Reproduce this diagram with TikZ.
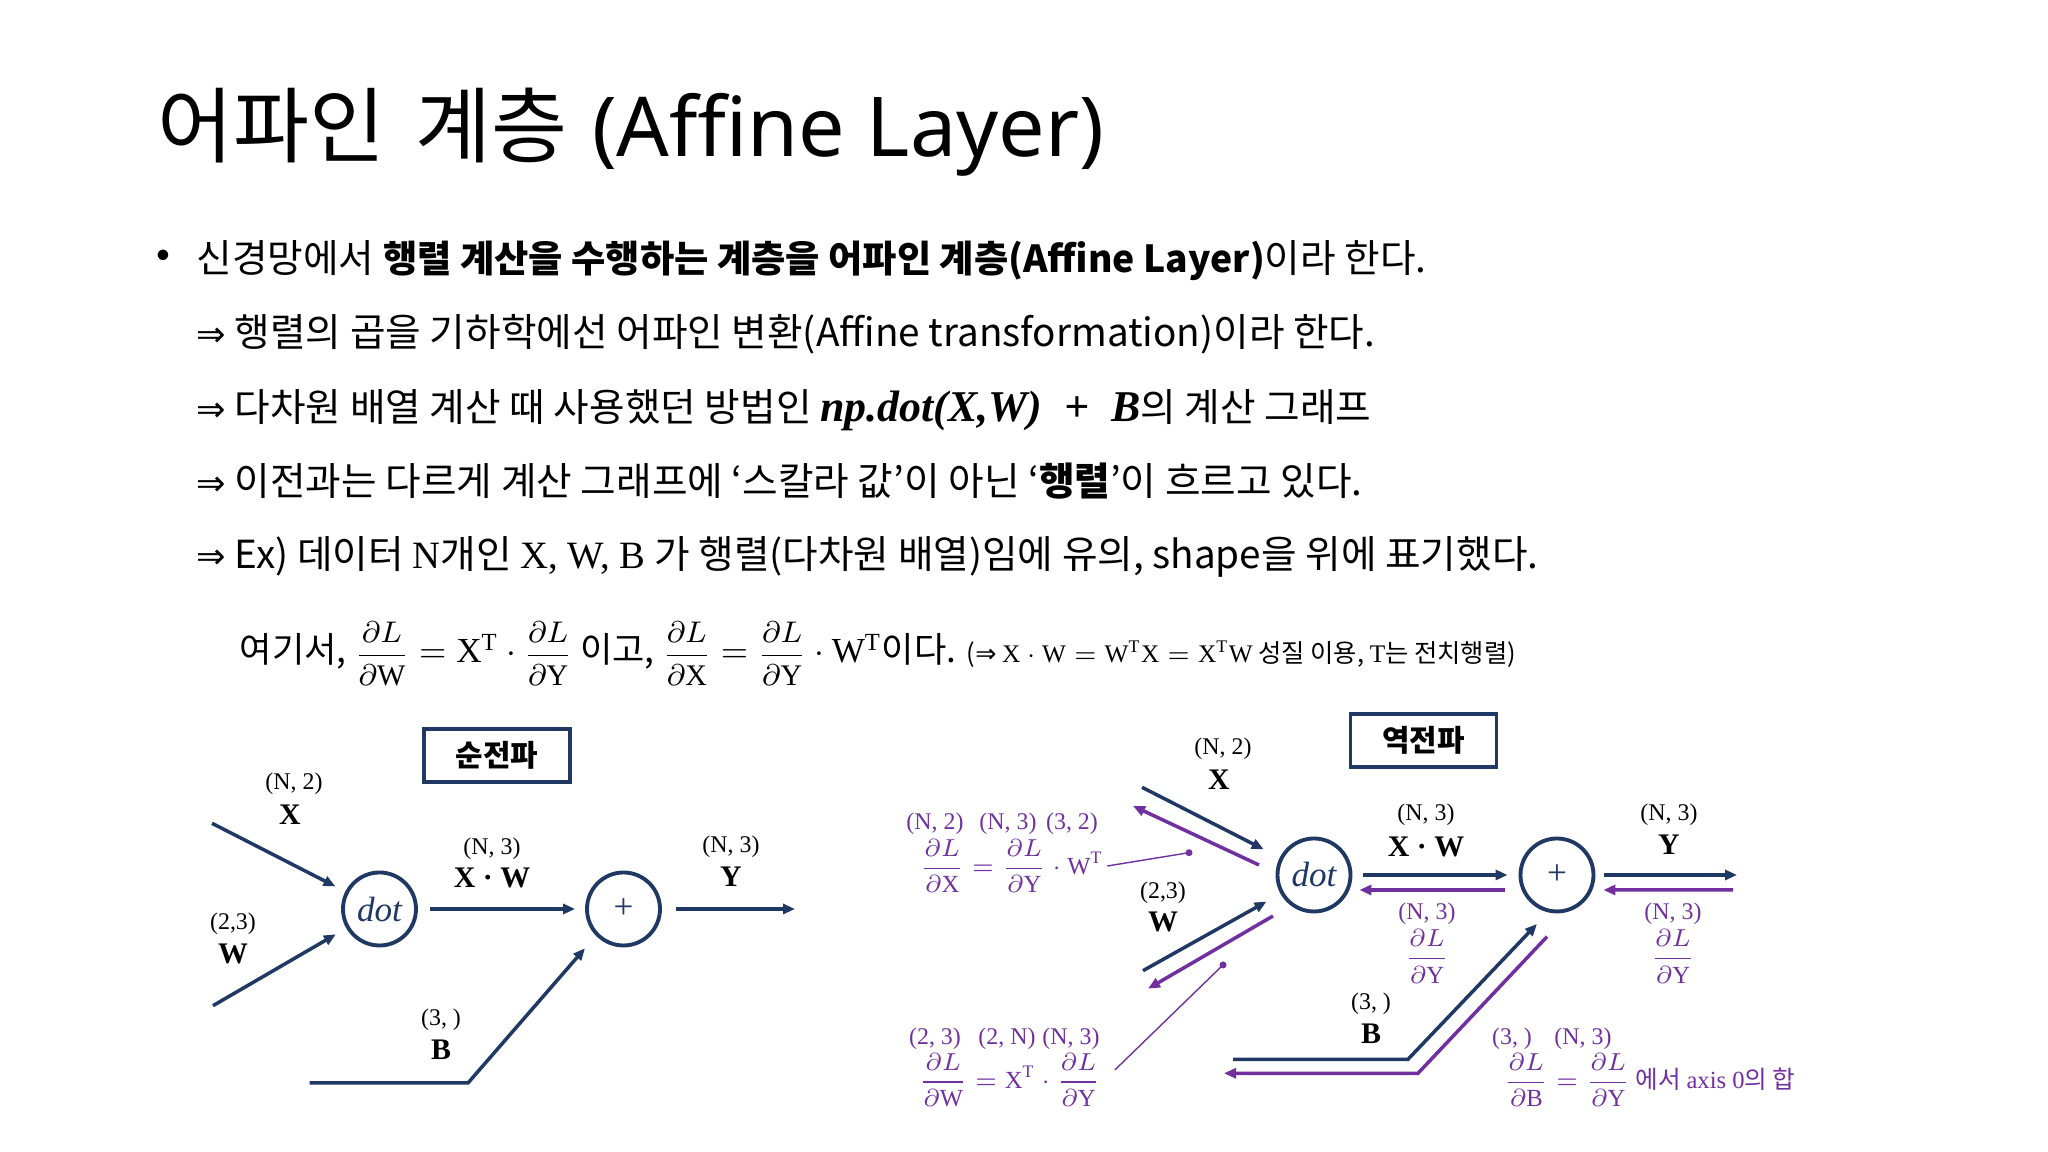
\RequirePackage{fix-cm}
\documentclass[tikz,border=0pt]{standalone}
\usepackage{amsmath}
\usepackage{fontspec}
\setmainfont{Noto Sans CJK KR}
\setmathrm{Liberation Serif}
\newfontfamily\serifface{Liberation Serif}
\newfontfamily\latinface{Noto Sans}
\newfontfamily\symface{DejaVu Sans}
\usetikzlibrary{arrows.meta,calc}

\definecolor{navy}{RGB}{31,56,100}
\definecolor{gradpurple}{RGB}{112,48,160}

\newcommand{\dLd}[1]{\dfrac{\partial L}{\partial \mathrm{#1}}}
\newcommand{\sdLd}[1]{{\fontsize{8.5}{10}\selectfont$\dLd{#1}$}}
\newcommand{\imp}{{\symface\fontsize{10}{12}\selectfont ⇒}}

\tikzset{
    body/.style={anchor=base west, inner sep=0pt, font=\fontsize{11}{13}\selectfont},
    fwd/.style={navy, line width=1pt, -{Triangle[length=1.2mm,width=1mm]}},
    bwd/.style={gradpurple, line width=1pt, -{Triangle[length=1.2mm,width=1mm]}},
    gate/.style={circle, draw=navy, line width=1.1pt, minimum size=0.73cm, inner sep=0pt,
        text=navy, font=\serifface\fontsize{10}{11}\selectfont},
    passbox/.style={draw=navy, line width=1pt, minimum width=1.46cm, minimum height=0.53cm,
        inner sep=0pt, font=\fontsize{8.5}{10}\selectfont\bfseries},
    shp/.style={inner sep=0pt, font=\serifface\fontsize{6.8}{8}\selectfont},
    var/.style={inner sep=0pt, font=\serifface\bfseries\fontsize{8.5}{10}\selectfont},
    pshp/.style={shp, text=gradpurple},
    pform/.style={inner sep=1pt, text=gradpurple, font=\fontsize{7}{8.5}\selectfont},
    lead/.style={gradpurple, line width=0.4pt},
}

\begin{document}
\begin{tikzpicture}
    \useasboundingbox (0,0) rectangle (20.48,11.52);

    % title and text lines
    \node[anchor=base west, inner sep=0pt, font=\fontsize{23.5}{28}\selectfont] (title) at (1.57,9.95) {어파인\hspace{0.36em}계층\hspace{0.3em}{\latinface(Affine Layer)}};
    \node[anchor=base, inner sep=0pt, font=\fontsize{7}{8}\selectfont] (bullet) at (1.63,8.90) {$\bullet$};
    \node[body] (line1) at (1.96,8.79) {신경망에서 {\fontsize{10.6}{13}\selectfont\bfseries 행렬 계산을 수행하는 계층을 어파인 계층(Affine Layer)}이라 한다.};
    \node[body] (line2) at (1.96,8.05) {\imp{} 행렬의 곱을 기하학에선 어파인 변환(Affine transformation)이라 한다.};
    \node[body] (line3) at (1.96,7.30) {\imp{} 다차원 배열 계산 때 사용했던 방법인 {\serifface\bfseries\itshape\fontsize{12.5}{14}\selectfont np.dot(X,W)\enspace+\enspace B}의 계산 그래프};
    \node[body] (line4) at (1.96,6.56) {\imp{} 이전과는 다르게 계산 그래프에 ‘스칼라 값’이 아닌 ‘\textbf{행렬}’이 흐르고 있다.};
    \node[body] (line5) at (1.96,5.83) {\imp{} Ex) 데이터 {\serifface N}개인 {\serifface X, W, B} 가 행렬(다차원 배열)임에 유의, shape을 위에 표기했다.};
    \node[body, font=\fontsize{10}{12}\selectfont] (line6) at (2.39,4.89) {여기서, \sdLd{W}$\;=\mathrm{X}^{\mathrm{T}}\cdot{}$\sdLd{Y} 이고, \sdLd{X}$\;=\;$\sdLd{Y}${}\cdot\mathrm{W}^{\mathrm{T}}$이다. {\fontsize{7.2}{9}\selectfont ({\symface ⇒} $\mathrm{X}\cdot\mathrm{W} = \mathrm{W}^{\mathrm{T}}\mathrm{X} = \mathrm{X}^{\mathrm{T}}\mathrm{W}$ 성질 이용, {\serifface T}는 전치행렬)}};

    % forward pass
    \node[passbox] (fwdbox) at (4.97,3.967) {순전파};
    \node[gate] (dot) at (3.795,2.43) {\itshape dot};
    \node[gate] (plus) at (6.235,2.43) {+};
    \coordinate (xin) at (2.12,3.287);
    \coordinate (win) at (2.13,1.463);
    \coordinate (yout) at (7.95,2.43);
    \coordinate (bin) at (3.095,0.69);
    \coordinate (bknee) at (4.68,0.69);
    \coordinate (bend) at (5.85,2.037);
    \draw[fwd, shorten >=0.11cm] (xin) -- (dot);
    \draw[fwd, shorten >=0.12cm] (win) -- (dot);
    \draw[fwd, shorten <=0.12cm, shorten >=0.1cm] (dot.east) -- (plus.west);
    \draw[fwd, shorten <=0.14cm] (plus.east) -- (yout);
    \draw[fwd] (bin) -- (bknee) -- (bend);

    \node[shp] (xshape) at (2.94,3.687) {(N, 2)};
    \node[var] (xlabel) at (2.90,3.37) {X};
    \node[shp] (wshape) at (2.33,2.287) {(2,3)};
    \node[var] (wlabel) at (2.33,1.98) {W};
    \node[shp] (xwshape) at (4.92,3.037) {(N, 3)};
    \node[var] (xwlabel) at (4.92,2.737) {X · W};
    \node[shp] (yshape) at (7.31,3.053) {(N, 3)};
    \node[var] (ylabel) at (7.31,2.753) {Y};
    \node[shp] (bshape) at (4.41,1.32) {(3, )};
    \node[var] (blabel) at (4.41,1.02) {B};

    % backward pass
    \node[passbox] (bwdbox) at (14.235,4.113) {역전파};
    \node[gate] (bdot) at (13.14,2.77) {\itshape dot};
    \node[gate] (bplus) at (15.57,2.77) {+};
    \coordinate (bxin) at (11.42,3.647);
    \coordinate (bxret) at (12.59,2.87);
    \coordinate (bxtip) at (11.33,3.46);
    \coordinate (bwin) at (11.43,1.813);
    \coordinate (bwret) at (12.73,2.36);
    \coordinate (bwtip) at (11.48,1.633);
    \coordinate (byout) at (17.37,2.77);
    \coordinate (byret) at (17.33,2.62);
    \coordinate (bbin) at (12.33,0.927);
    \coordinate (bbknee) at (14.08,0.927);
    \coordinate (bbend) at (15.37,2.28);
    \coordinate (bbret) at (15.47,2.153);
    \coordinate (bbknee2) at (14.18,0.787);
    \coordinate (bbtip) at (12.24,0.787);
    \draw[fwd, shorten >=0.18cm] (bxin) -- (bdot);
    \draw[bwd] (bxret) -- (bxtip);
    \draw[fwd, shorten >=0.16cm] (bwin) -- (bdot);
    \draw[bwd] (bwret) -- (bwtip);
    \draw[fwd, shorten <=0.11cm, shorten >=0.11cm] (bdot.east) -- (bplus.west);
    \draw[bwd, shorten <=0.14cm, shorten >=0.07cm] ([yshift=-0.15cm]bplus.west) -- ([yshift=-0.15cm]bdot.east);
    \draw[fwd, shorten <=0.09cm] (bplus.east) -- (byout);
    \draw[bwd, shorten >=0.08cm] (byret) -- ([yshift=-0.15cm]bplus.east);
    \draw[fwd] (bbin) -- (bbknee) -- (bbend);
    \draw[bwd] (bbret) -- (bbknee2) -- (bbtip);

    \node[shp] (bxshape) at (12.23,4.037) {(N, 2)};
    \node[var] (bxlabel) at (12.19,3.72) {X};
    \node[shp] (bwshape) at (11.63,2.593) {(2,3)};
    \node[var] (bwlabel) at (11.63,2.303) {W};
    \node[shp] (bxwshape) at (14.26,3.37) {(N, 3)};
    \node[var] (bxwlabel) at (14.26,3.053) {X · W};
    \node[shp] (byshape) at (16.69,3.37) {(N, 3)};
    \node[var] (bylabel) at (16.69,3.07) {Y};
    \node[shp] (bbshape) at (13.71,1.487) {(3, )};
    \node[var] (bblabel) at (13.71,1.187) {B};

    % gradients
    \node[pshp] (gxwshape) at (14.27,2.387) {(N, 3)};
    \node[pform] (gxw) at (14.27,1.953) {$\dLd{Y}$};
    \node[pshp] (gyshape) at (16.73,2.387) {(N, 3)};
    \node[pform] (gy) at (16.73,1.953) {$\dLd{Y}$};

    \node[pshp] (gx1) at (9.35,3.287) {(N, 2)};
    \node[pshp] (gx2) at (10.08,3.287) {(N, 3)};
    \node[pshp] (gx3) at (10.72,3.287) {(3, 2)};
    \node[pform, anchor=west] (gxform) at (9.16,2.86) {$\dLd{X} = \dLd{Y}\cdot\mathrm{W}^{\mathrm{T}}$};
    \coordinate (gxpin) at (11.89,2.993);
    \draw[lead] (gxform.east) -- (gxpin);
    \fill[gradpurple] (gxpin) circle (0.035);

    \node[pshp] (gw1) at (9.35,1.137) {(2, 3)};
    \node[pshp] (gw2) at (10.07,1.137) {(2, N)};
    \node[pshp] (gw3) at (10.71,1.137) {(N, 3)};
    \node[pform, anchor=west] (gwform) at (9.15,0.72) {$\dLd{W} = \mathrm{X}^{\mathrm{T}}\cdot\dLd{Y}$};
    \coordinate (gwpin) at (12.23,1.87);
    \draw[lead] ([shift={(0.1,0.1)}]gwform.east) -- (gwpin);
    \fill[gradpurple] (gwpin) circle (0.035);

    \node[pshp] (gb1) at (15.12,1.137) {(3, )};
    \node[pshp] (gb2) at (15.83,1.137) {(N, 3)};
    \node[pform, anchor=west] (gbform) at (15.0,0.72) {$\dLd{B} = \dLd{Y}$ 에서 {\serifface axis 0}의 합};
\end{tikzpicture}
\end{document}
